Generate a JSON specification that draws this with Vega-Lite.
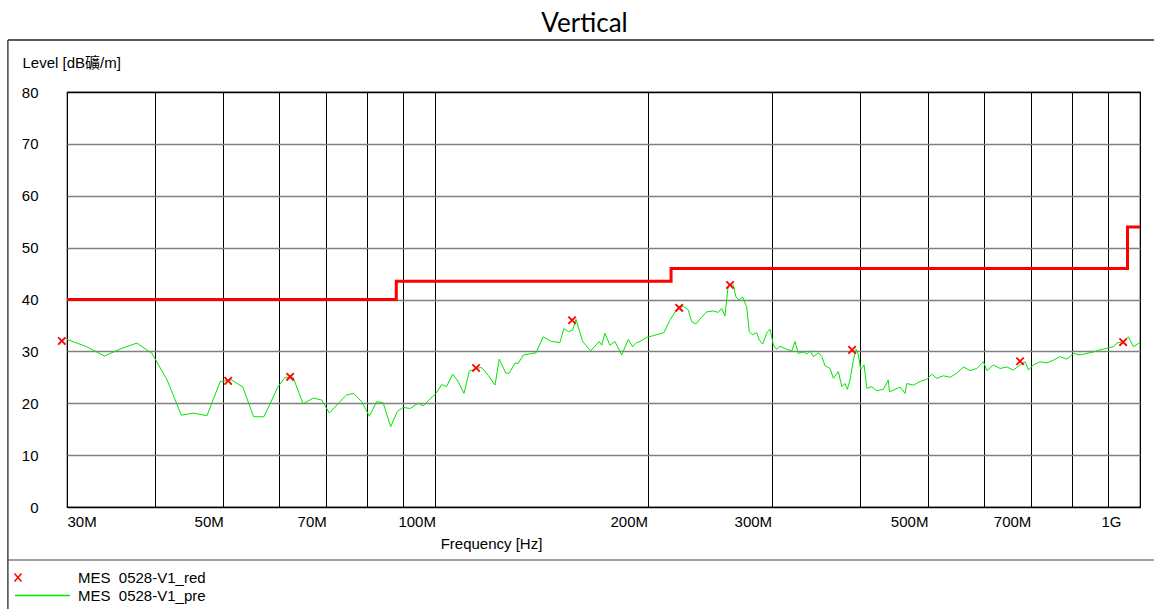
{
  "$schema": "https://vega.github.io/schema/vega-lite/v6.json",
  "autosize": {"type": "none"},
  "width": 1073,
  "height": 415,
  "padding": {"left": 67, "top": 92, "right": 14, "bottom": 102},
  "background": "white",
  "config": {
    "view": {"stroke": "black", "strokeWidth": 1.2},
    "font": "Liberation Sans"
  },
  "title": {
    "text": "Vertical",
    "font": "Lato",
    "fontSize": 26,
    "fontWeight": "normal",
    "color": "black",
    "anchor": "middle",
    "frame": "bounds",
    "offset": 2,
    "dx": -4
  },
  "datasets": {
    "pre": [
      {"f": 30.0, "v": 32.3}, {"f": 32.0, "v": 30.9}, {"f": 33.9, "v": 29.1}, {"f": 35.9, "v": 30.6}, {"f": 37.7, "v": 31.6}, {"f": 39.6, "v": 29.6}, {"f": 41.6, "v": 24.5}, {"f": 43.6, "v": 17.7}, {"f": 45.3, "v": 18.1}, {"f": 47.4, "v": 17.6}, {"f": 49.5, "v": 24.2}, {"f": 51.4, "v": 24.5}, {"f": 53.3, "v": 23.1}, {"f": 55.2, "v": 17.4}, {"f": 57.1, "v": 17.4}, {"f": 59.8, "v": 23.2}, {"f": 61.2, "v": 25.0}, {"f": 62.8, "v": 25.0}, {"f": 64.9, "v": 19.9}, {"f": 67.1, "v": 21.0}, {"f": 69.0, "v": 20.6}, {"f": 70.7, "v": 18.1}, {"f": 73.2, "v": 20.3}, {"f": 74.8, "v": 21.6}, {"f": 76.5, "v": 21.9}, {"f": 78.6, "v": 20.3}, {"f": 80.6, "v": 17.5}, {"f": 82.5, "v": 20.3}, {"f": 84.3, "v": 20.1}, {"f": 86.4, "v": 15.5}, {"f": 88.3, "v": 18.4}, {"f": 90.0, "v": 19.2}, {"f": 92.1, "v": 19.0}, {"f": 94.5, "v": 20.0}, {"f": 96.1, "v": 19.5}, {"f": 98.2, "v": 20.8}, {"f": 100.2, "v": 21.9}, {"f": 102.1, "v": 23.6}, {"f": 103.7, "v": 23.2}, {"f": 105.8, "v": 25.6}, {"f": 107.7, "v": 24.2}, {"f": 109.8, "v": 21.9}, {"f": 111.7, "v": 26.2}, {"f": 114.2, "v": 26.7}, {"f": 116.3, "v": 26.9}, {"f": 118.8, "v": 25.4}, {"f": 121.5, "v": 23.5}, {"f": 123.2, "v": 28.5}, {"f": 125.9, "v": 25.8}, {"f": 127.3, "v": 25.8}, {"f": 129.7, "v": 27.7}, {"f": 131.1, "v": 27.7}, {"f": 133.3, "v": 29.3}, {"f": 137.0, "v": 29.6}, {"f": 138.9, "v": 29.7}, {"f": 142.2, "v": 32.8}, {"f": 146.2, "v": 31.9}, {"f": 150.2, "v": 31.7}, {"f": 152.2, "v": 34.4}, {"f": 154.4, "v": 33.8}, {"f": 156.6, "v": 34.1}, {"f": 158.3, "v": 36.2}, {"f": 161.8, "v": 31.9}, {"f": 166.1, "v": 30.1}, {"f": 168.4, "v": 31.0}, {"f": 170.8, "v": 31.9}, {"f": 172.2, "v": 31.2}, {"f": 174.0, "v": 33.5}, {"f": 176.9, "v": 31.2}, {"f": 179.8, "v": 31.9}, {"f": 183.8, "v": 29.3}, {"f": 187.8, "v": 32.3}, {"f": 190.5, "v": 30.9}, {"f": 193.0, "v": 31.7}, {"f": 195.1, "v": 31.9}, {"f": 199.4, "v": 32.7}, {"f": 203.4, "v": 33.0}, {"f": 206.1, "v": 33.2}, {"f": 211.0, "v": 33.6}, {"f": 215.2, "v": 36.0}, {"f": 220.0, "v": 38.1}, {"f": 224.8, "v": 38.7}, {"f": 228.5, "v": 38.0}, {"f": 231.0, "v": 35.7}, {"f": 234.3, "v": 35.3}, {"f": 238.7, "v": 36.6}, {"f": 242.6, "v": 37.6}, {"f": 247.9, "v": 37.8}, {"f": 252.0, "v": 37.5}, {"f": 254.8, "v": 38.3}, {"f": 257.6, "v": 36.8}, {"f": 260.4, "v": 42.8}, {"f": 264.7, "v": 42.8}, {"f": 267.0, "v": 40.5}, {"f": 269.9, "v": 39.9}, {"f": 272.9, "v": 40.5}, {"f": 276.5, "v": 38.6}, {"f": 278.9, "v": 33.8}, {"f": 282.0, "v": 33.2}, {"f": 285.7, "v": 33.6}, {"f": 288.2, "v": 32.2}, {"f": 291.4, "v": 31.4}, {"f": 295.2, "v": 33.5}, {"f": 298.5, "v": 34.3}, {"f": 301.8, "v": 31.2}, {"f": 305.1, "v": 30.4}, {"f": 308.4, "v": 31.0}, {"f": 315.3, "v": 30.4}, {"f": 320.5, "v": 30.1}, {"f": 323.9, "v": 31.9}, {"f": 327.4, "v": 29.6}, {"f": 332.8, "v": 29.9}, {"f": 336.6, "v": 29.5}, {"f": 340.2, "v": 30.1}, {"f": 343.9, "v": 29.0}, {"f": 349.6, "v": 29.7}, {"f": 353.5, "v": 29.0}, {"f": 357.3, "v": 27.2}, {"f": 363.2, "v": 26.7}, {"f": 367.1, "v": 24.8}, {"f": 373.2, "v": 26.1}, {"f": 377.4, "v": 23.2}, {"f": 381.4, "v": 23.8}, {"f": 384.3, "v": 22.7}, {"f": 387.7, "v": 24.5}, {"f": 391.9, "v": 28.3}, {"f": 395.4, "v": 30.4}, {"f": 398.4, "v": 29.3}, {"f": 401.5, "v": 26.5}, {"f": 405.9, "v": 27.4}, {"f": 409.5, "v": 22.9}, {"f": 416.2, "v": 23.2}, {"f": 423.1, "v": 22.4}, {"f": 432.3, "v": 22.7}, {"f": 439.4, "v": 24.5}, {"f": 440.9, "v": 22.2}, {"f": 449.2, "v": 22.7}, {"f": 456.6, "v": 23.1}, {"f": 464.1, "v": 21.9}, {"f": 466.7, "v": 23.8}, {"f": 476.9, "v": 23.5}, {"f": 487.4, "v": 24.2}, {"f": 498.2, "v": 24.6}, {"f": 506.4, "v": 25.6}, {"f": 514.8, "v": 24.8}, {"f": 526.0, "v": 25.3}, {"f": 537.6, "v": 25.0}, {"f": 549.5, "v": 25.8}, {"f": 561.5, "v": 27.0}, {"f": 574.0, "v": 26.3}, {"f": 586.7, "v": 26.7}, {"f": 599.5, "v": 28.0}, {"f": 606.2, "v": 26.3}, {"f": 619.4, "v": 27.4}, {"f": 633.1, "v": 26.7}, {"f": 647.1, "v": 27.0}, {"f": 661.2, "v": 26.4}, {"f": 675.9, "v": 27.4}, {"f": 687.0, "v": 28.0}, {"f": 694.5, "v": 26.4}, {"f": 705.9, "v": 27.4}, {"f": 721.5, "v": 28.0}, {"f": 737.5, "v": 27.8}, {"f": 753.6, "v": 28.3}, {"f": 770.2, "v": 29.0}, {"f": 787.3, "v": 28.5}, {"f": 804.5, "v": 29.6}, {"f": 822.3, "v": 29.3}, {"f": 840.5, "v": 29.6}, {"f": 858.8, "v": 29.9}, {"f": 877.8, "v": 30.3}, {"f": 897.2, "v": 30.6}, {"f": 916.8, "v": 30.9}, {"f": 927.0, "v": 31.6}, {"f": 947.3, "v": 31.9}, {"f": 962.9, "v": 32.8}, {"f": 978.7, "v": 30.9}, {"f": 1000, "v": 31.7}
    ],
    "red": [
      {"f": 29.5, "v": 32.0}, {"f": 50.8, "v": 24.3}, {"f": 62.2, "v": 25.1}, {"f": 114.2, "v": 26.8}, {"f": 156.3, "v": 36.0}, {"f": 221.8, "v": 38.4}, {"f": 261.9, "v": 42.8}, {"f": 390.3, "v": 30.3}, {"f": 675.8, "v": 28.1}, {"f": 946.4, "v": 31.8}
    ],
    "lim": [
      {"f": 30, "v": 40}, {"f": 88, "v": 43.5}, {"f": 216, "v": 46}, {"f": 960, "v": 54}, {"f": 1000, "v": 54}
    ]
  },
  "layer": [
    {
      "data": {"name": "pre"},
      "transform": [{"calculate": "'MES \u00a00528-V1_pre'", "as": "series"}],
      "mark": {"type": "line", "strokeWidth": 1, "clip": true},
      "encoding": {
        "x": {
          "field": "f", "type": "quantitative",
          "scale": {"type": "log", "domain": [30, 1000], "nice": false},
          "axis": {
            "values": [30, 40, 50, 60, 70, 80, 90, 100, 200, 300, 400, 500, 600, 700, 800, 900, 1000],
            "labelExpr": "indexof([30,50,70,100,200,300,500,700], datum.value) >= 0 ? datum.value + 'M' : (datum.value == 1000 ? '1G' : '')",
            "grid": true, "gridColor": "black", "gridWidth": 1,
            "ticks": false, "domain": false,
            "labelFlush": false, "labelOverlap": false, "labelBound": false,
            "labelAlign": {"condition": {"test": "datum.value <= 30", "value": "left"}, "value": "right"},
            "labelOffset": {"condition": {"test": "datum.value >= 1000", "value": -19}, "value": 0},
            "labelPadding": 7, "labelBaseline": "top",
            "labelFont": "Liberation Sans", "labelFontSize": 15, "labelColor": "black",
            "title": "Frequency [Hz]", "titleFont": "Liberation Sans", "titleFontSize": 15,
            "titleFontWeight": "normal", "titleColor": "black",
            "titleX": 424, "titleY": 36, "titleAlign": "center", "titleBaseline": "middle"
          }
        },
        "y": {
          "field": "v", "type": "quantitative",
          "scale": {"domain": [0, 80], "nice": false, "zero": false},
          "axis": {
            "values": [0, 10, 20, 30, 40, 50, 60, 70, 80],
            "grid": true,
            "gridColor": {"condition": {"test": "datum.value == 80 || datum.value == 0", "value": "black"}, "value": "#808080"},
            "gridWidth": 1.5,
            "ticks": false, "domain": false,
            "labelPadding": 29, "labelFont": "Liberation Sans", "labelFontSize": 15, "labelColor": "black",
            "title": "Level [dB礦/m]", "titleFont": "Liberation Sans, Noto Sans CJK TC", "titleFontSize": 15,
            "titleFontWeight": "normal", "titleColor": "black",
            "titleAngle": 0, "titleAlign": "left", "titleBaseline": "middle",
            "titleX": -45, "titleY": -30
          }
        },
        "color": {
          "field": "series", "type": "nominal",
          "scale": {
            "domain": ["MES \u00a00528-V1_red", "MES \u00a00528-V1_pre", "LIM \u00a0FCC 15 7 3 QP \u00a0 \u00a0 Field Strength QP"],
            "range": ["#ff0000", "#00e600", "#ff0000"]
          },
          "legend": {
            "orient": "none", "legendX": -59, "legendY": 478,
            "title": null, "padding": 0,
            "labelFont": "Liberation Sans", "labelFontSize": 15, "labelColor": "black",
            "symbolSize": 100, "symbolStrokeWidth": 1.5, "labelOffset": 55, "rowPadding": 2,
            "encode": {
              "symbols": {
                "update": {
                  "shape": {"signal": "datum.value === 'MES \u00a00528-V1_red' ? 'M-0.7,-0.8L0.7,0.8M-0.7,0.8L0.7,-0.8' : 'M-5.5,0L5.5,0'"},
                  "x": {"signal": "datum.value === 'MES \u00a00528-V1_red' ? 10 : 34.5"},
                  "stroke": {"signal": "datum.value === 'MES \u00a00528-V1_pre' ? '#33ff33' : '#ff0000'"},
                  "strokeWidth": {"value": 1.5},
                  "fill": {"value": "transparent"},
                  "opacity": {"value": 1}
                }
              }
            }
          }
        }
      }
    },
    {
      "data": {"name": "lim"},
      "transform": [{"calculate": "'LIM \u00a0FCC 15 7 3 QP \u00a0 \u00a0 Field Strength QP'", "as": "series"}],
      "mark": {"type": "line", "interpolate": "step-after", "strokeWidth": 3},
      "encoding": {
        "x": {"field": "f", "type": "quantitative"},
        "y": {"field": "v", "type": "quantitative"},
        "color": {"field": "series", "type": "nominal"}
      }
    },
    {
      "data": {"name": "red"},
      "transform": [{"calculate": "'MES \u00a00528-V1_red'", "as": "series"}],
      "mark": {"type": "point", "shape": "M-1,-1L1,1M-1,1L1,-1", "size": 55, "filled": false, "strokeWidth": 1.8, "opacity": 1},
      "encoding": {
        "x": {"field": "f", "type": "quantitative"},
        "y": {"field": "v", "type": "quantitative"},
        "color": {"field": "series", "type": "nominal"}
      }
    },
    {
      "data": {"values": [{}]},
      "mark": {"type": "rule", "color": "#222222", "strokeWidth": 1.5},
      "encoding": {
        "x": {"datum": 24.73, "type": "quantitative"},
        "x2": {"datum": 1100},
        "y": {"datum": 90.02, "type": "quantitative"}
      }
    },
    {
      "data": {"values": [{}]},
      "mark": {"type": "rule", "color": "#444444", "strokeWidth": 1.5},
      "encoding": {
        "x": {"datum": 24.73, "type": "quantitative"},
        "y": {"datum": 90.02, "type": "quantitative"},
        "y2": {"datum": -25}
      }
    },
    {
      "data": {"values": [{}]},
      "mark": {"type": "rule", "color": "#444444", "strokeWidth": 1.2},
      "encoding": {
        "x": {"datum": 24.73, "type": "quantitative"},
        "x2": {"datum": 1100},
        "y": {"datum": -10.22, "type": "quantitative"}
      }
    }
  ]
}
